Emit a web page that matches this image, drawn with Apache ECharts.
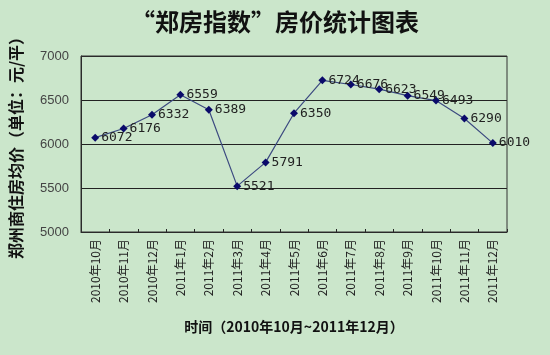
<!DOCTYPE html>
<html><head><meta charset="utf-8">
<script src="https://cdn.jsdelivr.net/npm/echarts@6/dist/echarts.min.js"></script>
<style>html,body{margin:0;padding:0;background:#cbe6cb;}#c{width:550px;height:355px;}</style>
</head><body><div id="c"></div>
<script>
const categories = ['2010年10月','2010年11月','2010年12月','2011年1月','2011年2月','2011年3月','2011年4月','2011年5月','2011年6月','2011年7月','2011年8月','2011年9月','2011年10月','2011年11月','2011年12月'];
const prices = [6072,6176,6332,6559,6389,5521,5791,6350,6724,6676,6623,6549,6493,6290,6010];
const yTicks = [5000,5500,6000,6500,7000];
const titleText = '“郑房指数”房价统计图表';
const yName = '郑州商住房均价（单位：元/平）';
const xName = '时间（2010年10月~2011年12月）';

const chart = echarts.init(document.getElementById('c'));
chart.setOption({
  backgroundColor: '#cbe6cb',
  animation: false,
  title: {text: titleText, left: 'center', top: 5,
    textStyle: {fontFamily: 'Noto Sans CJK SC', fontWeight: 'bold', fontSize: 24, color: '#111'}},
  grid: {left: 81, right: 43, top: 56, bottom: 123},
  xAxis: {
    type: 'category', data: categories, boundaryGap: true,
    axisLine: {lineStyle: {color: '#222', width: 1}},
    axisTick: {show: true, inside: true, length: 3, lineStyle: {color: '#222'}},
    axisLabel: {rotate: 90, fontSize: 12, color: '#222', fontFamily: 'Noto Sans CJK SC', margin: 7},
    name: xName, nameLocation: 'middle', nameGap: 88,
    nameTextStyle: {fontFamily: 'Noto Sans CJK SC', fontWeight: 'bold', fontSize: 14, color: '#111'}
  },
  yAxis: {
    type: 'value', min: yTicks[0], max: yTicks[yTicks.length-1], interval: 500,
    axisLine: {show: true, lineStyle: {color: '#222'}},
    axisTick: {show: false},
    axisLabel: {fontSize: 13, color: '#444', fontFamily: 'Liberation Sans', margin: 12,
      formatter: v => String(v)},
    splitLine: {show: true, lineStyle: {color: '#222', width: 1}},
    name: yName, nameLocation: 'middle', nameGap: 57, nameRotate: 90,
    nameTextStyle: {fontFamily: 'Noto Sans CJK SC', fontWeight: 'bold', fontSize: 16, color: '#111'}
  },
  graphic: [{type: 'rect', shape: {x: 81, y: 56, width: 426, height: 176}, silent: true,
    style: {fill: 'none', stroke: '#333', lineWidth: 1}, z: 1}],
  series: [{
    type: 'line', data: prices,
    symbol: 'diamond', symbolSize: 8,
    itemStyle: {color: '#0a0a6a'},
    lineStyle: {color: '#3c4a80', width: 1.2},
    label: {show: true, position: 'right', distance: 2, fontSize: 13, color: '#222', fontFamily: 'DejaVu Sans Mono'}
  }]
});
</script></body></html>
